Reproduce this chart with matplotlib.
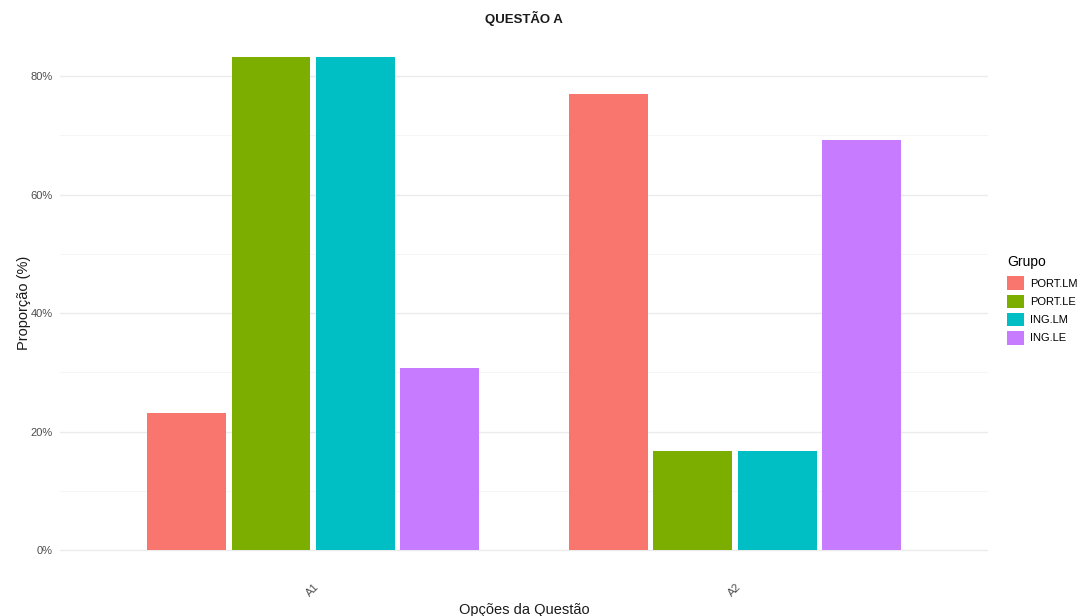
import matplotlib
matplotlib.use("Agg")
import matplotlib.pyplot as plt
import numpy as np
from matplotlib.ticker import FuncFormatter, MultipleLocator
from matplotlib.patches import Patch

plt.rcParams['font.family'] = ['Liberation Sans', 'DejaVu Sans']

options = ["A1", "A2"]
groups = ["PORT.LM", "PORT.LE", "ING.LM", "ING.LE"]
colors = ["#F8766D", "#7CAE00", "#00BFC4", "#C77CFF"]
# proportion (%) per group for each option
port_lm = [23.1, 76.9]
port_le = [83.3, 16.7]
ing_lm = [83.3, 16.7]
ing_le = [30.8, 69.2]
series = [port_lm, port_le, ing_lm, ing_le]

fig = plt.figure(figsize=(10.84, 6.16), dpi=100)
ax = fig.add_axes([0.0554, 0.0666, 0.856, 0.882])

x = np.arange(1, len(options) + 1)
slot = 0.2
width = 0.187
for i, (vals, col) in enumerate(zip(series, colors)):
    ax.bar(x + (i - 1.5) * slot, vals, width=width, color=col, zorder=3)

ax.set_xlim(0.4, 2.6)
ax.set_ylim(-4.17, 87.5)
ax.yaxis.set_major_locator(MultipleLocator(20))
ax.yaxis.set_minor_locator(MultipleLocator(10))
ax.yaxis.set_major_formatter(FuncFormatter(lambda v, p: f"{v:.0f}%"))
ax.grid(axis='y', which='major', color='#ebebeb', linewidth=1.0, zorder=0)
ax.grid(axis='y', which='minor', color='#f4f4f4', linewidth=0.6, zorder=0)
ax.set_xticks(x)
ax.set_xticklabels(options, rotation=45, ha='center', va='top')
ax.tick_params(axis='both', length=0, labelsize=8, labelcolor='#4d4d4d')
ax.tick_params(axis='x', pad=5)
ax.tick_params(axis='y', pad=5)
ax.tick_params(axis='y', which='minor', length=0)
for s in ax.spines.values():
    s.set_visible(False)

ax.set_xlabel("Opções da Questão", fontsize=10.5, color='#1a1a1a', labelpad=3)
ax.set_ylabel("Proporção (%)", fontsize=10.5, color='#1a1a1a', labelpad=0)
fig.text(0.4834, 0.97, "QUESTÃO A", ha='center', va='center',
         fontsize=9.5, fontweight='bold', color='#1a1a1a')

handles = [Patch(facecolor=c, edgecolor='none') for c in colors]
leg = fig.legend(handles, groups, title="Grupo", loc='center left',
                 bbox_to_anchor=(0.929, 0.513), frameon=False,
                 fontsize=8, title_fontsize=10, handlelength=1.5,
                 handleheight=1.5, handletextpad=0.6, labelspacing=0.42,
                 borderaxespad=0, borderpad=0)
leg._legend_box.align = "left"
leg._legend_box.sep = 5

fig.savefig("out.png", dpi=100, facecolor='white')
